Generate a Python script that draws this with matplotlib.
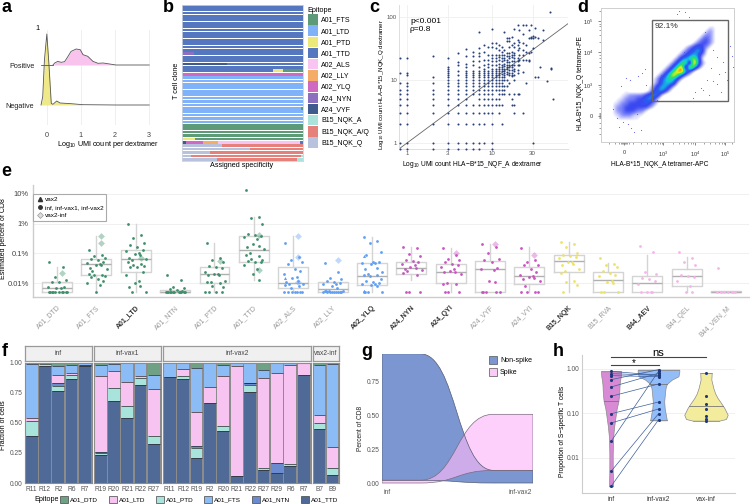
import numpy as np
import matplotlib
matplotlib.use('Agg')
import matplotlib.pyplot as plt
from matplotlib.patches import Patch, Rectangle, PathPatch
from matplotlib.path import Path
from matplotlib.lines import Line2D
from matplotlib.colors import LinearSegmentedColormap

plt.rcParams['font.family'] = ['Liberation Sans', 'DejaVu Sans']
plt.rcParams['mathtext.default'] = 'regular'

W, H = 750, 504
GREY = '#555555'

# ---- panel a
pos_x = [0.18, 0.23, 0.32, 0.42, 0.52, 0.61, 0.71, 0.86, 0.98, 1.06, 1.2, 1.35, 1.5, 1.65, 1.84, 2.03, 3.0]
pos_h = [0, 0.05, 0.09, 0.067, 0.083, 0.2, 0.34, 0.4, 0.383, 0.258, 0.217, 0.092, 0.042, 0.05, 0.025, 0, 0]
neg_x = [-0.17, -0.12, -0.07, 0, 0.06, 0.13, 0.18, 0.29, 0.39, 0.71, 1.05, 2.03, 3.0]
neg_h = [0, 0.21, 1.125, 1.775, 1.04, 0.04, 0.017, 0.1, 0.05, 0.033, 0.008, 0, 0]

# ---- panel b
epitopes = ['A01_FTS', 'A01_LTD', 'A01_PTD', 'A01_TTD', 'A02_ALS', 'A02_LLY', 'A02_YLQ', 'A24_NYN',
            'A24_VYF', 'B15_NQK_A', 'B15_NQK_A/Q', 'B15_NQK_Q']
epitope_colors = ['#5d9a78', '#7fb2f8', '#ece87a', '#5577c0', '#f8c4f2', '#f4ac66', '#cf69c2', '#8d6fc0',
                  '#3f5a8c', '#a9e3db', '#e5807a', '#b8c2dc']
clone_rows = ([[('A01_TTD', 1)]] * 14 + [[('A24_NYN', 0.1), ('A01_TTD', 0.9)]] + [[('A01_TTD', 1)]] * 2
              + [[('A24_VYF', 0.37), ('A01_TTD', 0.63)]] + [[('A01_TTD', 1)]]
              + [[('A01_TTD', 0.75), ('A01_PTD', 0.08), ('A01_FTS', 0.17)]]
              + [[('A02_YLQ', 1)]] + [[('A01_LTD', 1)]] * 9 + [[('A01_LTD', 0.98), ('A01_FTS', 0.02)]]
              + [[('A01_LTD', 1)]] * 4 + [[('A01_FTS', 1)]] * 4
              + [[('A01_PTD', 0.11), ('A01_FTS', 0.89)]]
              + [[('A24_VYF', 0.035), ('A02_YLQ', 0.145), ('A02_LLY', 0.12), ('A02_ALS', 0.67), ('A01_TTD', 0.03)]]
              + [[('B15_NQK_Q', 0.33), ('B15_NQK_A/Q', 0.67)]]
              + [[('B15_NQK_Q', 0.56), ('B15_NQK_A/Q', 0.44)]]
              + [[('B15_NQK_Q', 0.23), ('B15_NQK_A/Q', 0.77)]]
              + [[('B15_NQK_Q', 0.08), ('B15_NQK_A/Q', 0.9), ('B15_NQK_A', 0.02)]]
              + [[('B15_NQK_Q', 0.29), ('B15_NQK_A/Q', 0.66), ('B15_NQK_A', 0.05)]])

# ---- panel c, UMI counts by x value
umi_left = [22, 13, 9, 7, 6, 5, 4, 3, 2, 1]
umi = {
    0.83: umi_left + [0.8],
    1: [22, 13, 12, 9, 8, 7, 6, 5, 4, 3, 2, 1, 0.8],
    2: [24, 11, 9, 7, 6, 5, 4, 3, 2, 1, 0.8],
    3: [22, 16, 15, 14, 13, 12, 11, 10, 9, 8, 7, 6, 5, 4, 3, 2, 1, 0.8],
    4: [27, 19, 17, 14, 12, 10, 9, 8, 7, 6, 5, 4, 3, 2, 1, 0.8],
    5: [31, 24, 18, 16, 14, 13, 12, 11, 10, 9, 8, 7, 6, 5, 4, 3, 2, 1, 0.8],
    6: [28, 24, 20, 17, 14, 13, 12, 11, 10, 9, 8, 7, 6, 4, 3, 2, 1, 0.8],
    7: [58, 32, 27, 24, 20, 16, 14, 13, 12, 11, 10, 9, 8, 7, 6, 5, 4, 3, 2, 1, 0.8],
    8: [36, 28, 21, 17, 15, 14, 13, 12, 11, 10, 9, 8, 7, 6, 5, 4, 3, 2, 1],
    9: [34, 25, 21, 18, 16, 14, 13, 12, 11, 10, 9, 8, 7, 6, 5, 4, 3],
    10: [65, 38, 34, 25, 22, 20, 17, 15, 14, 13, 12, 11, 10, 9, 8, 7, 6, 5, 4, 3, 2, 1, 0.8],
    11: [38, 32, 25, 22, 20, 17, 15, 14, 13, 12, 11, 10, 9, 8, 7, 5, 4],
    12: [36, 30, 25, 23, 21, 18, 16, 15, 14, 13, 12, 11, 10, 9, 8, 7, 6, 5, 4, 3],
    13: [34, 28, 25, 22, 20, 17, 16, 15, 14, 12.5, 11, 10, 9, 8, 7, 6, 4, 2],
    14: [58, 30, 25, 22, 20.5, 18, 16.5, 15, 14, 13, 12, 11, 10, 8, 7, 6],
    15: [46, 41, 27, 24, 21, 19, 17, 16, 15, 13.5, 12.5, 10, 8],
    16: [47, 42, 34, 27, 24, 22, 19, 17, 16, 14.5, 13, 12, 9, 6],
    17: [49, 36, 28, 25, 23, 20, 17, 16, 14.5, 13, 12, 11.5, 5, 4],
    18: [65, 38, 34, 27, 25, 22, 20, 17, 15, 14, 12, 10, 6, 4, 3],
    20: [75, 43, 36, 30, 22, 20, 17, 14.5, 13, 6],
    21: [62, 40, 32, 25, 21, 17, 6],
    23: [75, 53, 38, 30, 25, 21, 13.5, 3],
    25: [75, 36, 28, 21, 9],
    27: [62, 46, 27, 21, 20],
    29: [76, 49, 47, 28],
    30: [50, 46, 32, 1],
    32: [66, 49, 11],
    35: [46, 11],
    37: [16],
    40: [62, 43],
    44: [9.5],
    48: [121],
    50: [15.5, 15],
    52: [5],
}

# ---- panel d, density read on a 4 px grid, digit = density level
flow_rows = [
    '',
    '',
    '',
    '',
    '',
    '...........................11',
    '..........................121',
    '.........................1221',
    '........................12321',
    '.......................123321',
    '.....................1234321',
    '....................1234541',
    '...................12345421',
    '..................12456751',
    '.................12467 9521',
    '................12468 9631',
    '...............124689531',
    '..............124686421',
    '.............12456531',
    '.............1245541',
    '............1245531',
    '......1.....134531',
    '.....11222234541',
    '....11222334531',
    '...112233334321',
    '...12233333321',
    '...122333221',
    '...11222111',
    '....111111',
]
speck_x = [20, 29, 37, 44, 70, 83, 96, 112, 118, 122, 129, 131, 102, 108, 116, 124, 92, 60, 40, 48, 126, 112, 104, 56, 18, 12, 27, 33, 120, 132, 78, 80, 76, 84, 73, 88, 116, 110, 106, 100, 94, 16, 22, 30, 36, 45, 25, 41]
speck_y = [56, 62, 66, 73, 76, 90, 122, 61, 68, 80, 96, 86, 52, 47, 58, 70, 44, 67, 12, 49, 62, 92, 110, 42, 15, 33, 18, 10, 50, 75, 131, 134, 128, 130, 122, 125, 85, 74, 62, 54, 50, 24, 20, 14, 28, 57, 64, 69]
flow_xticks = [23, 62, 94, 124]
flow_yticks = [26, 57, 90, 121]

# ---- panel e
e_labels = ['A01_DTD', 'A01_FTS', 'A01_LTD', 'A01_NTN', 'A01_PTD', 'A01_TTD', 'A02_ALS', 'A02_LLY', 'A02_YLQ',
            'A24_NYN', 'A24_QYI', 'A24_VYF', 'A24_VYI', 'B15_NQK', 'B15_RVA', 'B44_AEV', 'B44_QEL', 'B44_VEN_M']
e_bold = ['A01_LTD', 'A02_YLQ', 'A24_NYN', 'A24_QYI', 'B15_NQK', 'B44_AEV']
green, blue, magenta, yellow, pink = '#3f8f6b', '#5f9ff5', '#c855c0', '#ece46a', '#f6b4ec'
e_colors = [green] * 6 + [blue] * 3 + [magenta] * 4 + [yellow] * 2 + [pink] * 3
q1 = [0.005, 0.018, 0.023, 0.005, 0.01, 0.051, 0.0066, 0.005, 0.0089, 0.02, 0.01, 0.005, 0.009, 0.023, 0.005, 0.005, 0.0079, 0.005]
med = [0.0069, 0.043, 0.063, 0.0052, 0.0195, 0.13, 0.01, 0.0063, 0.017, 0.032, 0.024, 0.029, 0.017, 0.054, 0.0123, 0.01, 0.017, 0.005]
q3 = [0.011, 0.066, 0.126, 0.0058, 0.036, 0.39, 0.034, 0.0105, 0.048, 0.052, 0.044, 0.054, 0.034, 0.085, 0.023, 0.0168, 0.029, 0.0053]
wlo = [0.005, 0.0051, 0.005, 0.005, 0.005, 0.0126, 0.005, 0.005, 0.005, 0.013, 0.005, 0.005, 0.005, 0.005, 0.005, 0.005, 0.005, 0.005]
whi = [0.035, 0.39, 1.0, 0.006, 0.23, 1.7, 0.39, 0.0105, 0.36, 0.166, 0.155, 0.2, 0.166, 0.245, 0.046, 0.087, 0.077, 0.0053]
e_points = [
    [0.052, 0.036, 0.016, 0.013, 0.011, 0.0105, 0.0072, 0.0072, 0.0068, 0.0068] + [0.0051] * 10,
    [0.13, 0.085, 0.08, 0.072, 0.065, 0.058, 0.05, 0.047, 0.045, 0.042, 0.04, 0.033, 0.03, 0.026, 0.02, 0.019, 0.018, 0.017, 0.016, 0.014, 0.012, 0.01, 0.0086, 0.0051],
    [1.0, 0.4, 0.33, 0.22, 0.19, 0.16, 0.13, 0.12, 0.1, 0.095, 0.085, 0.07, 0.065, 0.06, 0.052, 0.043, 0.04, 0.037, 0.036, 0.034, 0.024, 0.018, 0.012, 0.01, 0.008, 0.0075, 0.0051, 0.0051],
    [0.018, 0.013, 0.0072, 0.0066, 0.0062, 0.0058, 0.0056] + [0.0051] * 12,
    [0.23, 0.068, 0.058, 0.05, 0.037, 0.036, 0.033, 0.023, 0.021, 0.02, 0.019, 0.018, 0.012, 0.011, 0.011, 0.01, 0.0078, 0.0075, 0.0051, 0.0051, 0.0051, 0.0051],
    [13.5, 1.7, 1.6, 0.95, 0.45, 0.4, 0.38, 0.36, 0.3, 0.2, 0.18, 0.16, 0.14, 0.1, 0.09, 0.08, 0.065, 0.06, 0.055, 0.052, 0.05, 0.042, 0.03, 0.02, 0.0126],
    [0.23, 0.075, 0.06, 0.05, 0.045, 0.03, 0.025, 0.02, 0.016, 0.015, 0.012, 0.0105, 0.0095, 0.009, 0.0085, 0.008, 0.0066] + [0.0051] * 7,
    [0.048, 0.024, 0.015, 0.014, 0.012, 0.011, 0.01, 0.0095, 0.009, 0.008, 0.007] + [0.0056] * 4 + [0.0051] * 9,
    [0.36, 0.27, 0.22, 0.11, 0.09, 0.052, 0.05, 0.048, 0.046, 0.045, 0.032, 0.03, 0.024, 0.02, 0.019, 0.018, 0.017, 0.014, 0.012, 0.011, 0.01, 0.0095, 0.009, 0.0085, 0.008] + [0.0051] * 4,
    [0.166, 0.15, 0.098, 0.08, 0.062, 0.056, 0.05, 0.045, 0.04, 0.036, 0.032, 0.03, 0.028, 0.025, 0.022, 0.018, 0.0051, 0.0051, 0.0051],
    [0.155, 0.085, 0.065, 0.06, 0.05, 0.045, 0.04, 0.035, 0.03, 0.026, 0.024, 0.023, 0.02, 0.01, 0.009, 0.0095, 0.0051, 0.0051, 0.0051],
    [0.2, 0.17, 0.1, 0.065, 0.06, 0.05, 0.032, 0.03, 0.028, 0.012, 0.0105, 0.0051, 0.0051, 0.0051, 0.0051, 0.0051],
    [0.15, 0.062, 0.05, 0.042, 0.04, 0.03, 0.024, 0.018, 0.017, 0.016, 0.015, 0.014, 0.012, 0.008, 0.0051, 0.0051, 0.0051, 0.0051],
    [0.245, 0.2, 0.16, 0.1, 0.085, 0.08, 0.075, 0.07, 0.052, 0.05, 0.045, 0.04, 0.03, 0.025, 0.022, 0.012, 0.011, 0.0085, 0.0051],
    [0.07, 0.045, 0.04, 0.035, 0.025, 0.022, 0.019, 0.017, 0.012, 0.011, 0.01, 0.0051, 0.0051, 0.0051],
    [0.18, 0.11, 0.024, 0.02, 0.015, 0.014, 0.012, 0.0095, 0.0051, 0.0051, 0.0051, 0.0051],
    [0.11, 0.07, 0.05, 0.04, 0.018, 0.017, 0.016, 0.012, 0.0078, 0.0051, 0.0051],
    [0.031] + [0.0051] * 7,
]
diamond_cat = [0, 1, 1, 2, 4, 5, 5, 6, 6, 7, 10, 11, 12, 6]
diamond_val = [0.022, 0.39, 0.23, 0.07, 0.055, 0.4, 0.028, 0.39, 0.075, 0.06, 0.1, 0.2, 0.09, 0.0105]
triangle_cat = [6, 8, 8, 8]
triangle_val = [0.015, 0.08, 0.0055, 0.0055]

# ---- panel f, fractions stacked from bottom: TTD, PTD, NTN, LTD, FTS, DTD
stack_names = ['A01_TTD', 'A01_PTD', 'A01_NTN', 'A01_LTD', 'A01_FTS', 'A01_DTD']
stack_colors = ['#4f6a96', '#a8e4dc', '#6a8bcf', '#f7c3f0', '#8cbcf5', '#6fa285']
inf_ids = ['R11', 'R12', 'R2', 'R6', 'R7']
inf_frac = [[.388, .975, .766, .86, .967], [.13, .01, .038, .038, 0], [0, 0, .03, 0, .016],
            [.019, 0, .06, .014, 0], [.453, .015, .08, .068, .012], [.01, 0, .026, .02, .005]]
vax1_ids = ['R19', 'R20', 'R21', 'R22', 'R27']
vax1_frac = [[.234, .678, .537, .815, .325], [.019, .107, .099, .053, .061], [.005, 0, 0, 0, 0],
             [.626, .141, .199, .016, .391], [.099, .063, .16, .111, .123], [.017, .011, .005, .005, .1]]
vax2_ids = ['R11', 'R12', 'R19', 'R2', 'R20', 'R21', 'R22', 'R27', 'R29', 'R6', 'R7']
vax2_frac = [[.876, .86, .207, .664, .43, .055, .752, .11, .083, .14, .898],
             [0, .03, .08, 0, .047, 0, .061, .014, 0, .02, 0],
             [0, 0, .019, 0, 0, 0, .019, 0, .082, 0, 0],
             [0, .06, .281, .132, .413, .917, .002, .744, .752, .818, .097],
             [.116, .045, .369, .201, .093, .028, .163, .069, .077, .017, .005],
             [.008, .005, .044, .003, .017, 0, .003, .063, .006, .005, 0]]
vi_ids = ['B7', 'B9']
vi_frac = [[.446, .069], [.05, .055], [0, 0], [.069, .171], [.413, .694], [.022, .011]]

# ---- panel g
stages = [1, 2]
nonspike_low, nonspike_high = [0.02, 0.0], [0.95, 0.093]
spike_low, spike_high = [0.0, 0.093], [0.02, 0.505]

# ---- panel h
h_labels = ['inf', 'inf-vax2', 'vax-inf']
inf_vals = [.886, .785, .708, .575, .393, .243, .0985, .061, .0235, .005, .0023]
infvax_vals = [.72, .72, .67, .966, .80, .46, .181, .126, .886, .0985, .072]
vaxinf_vals = [.81, .25, .166, .126, .086, .077, .069]
h_medians = [.19, .46, .145]
viol_y = [[.886, .8, .684, .55, .44, .33, .264, .187, .13, .093, .05, .028, .0119, .005, .0023],
          [.966, .88, .684, .575, .46, .38, .314, .187, .13, .093, .07],
          [.81, .7, .575, .374, .28, .222, .165, .133, .093, .075, .069]]
viol_w = [[.21, .21, .205, .19, .18, .175, .17, .155, .12, .1, .065, .042, .035, .036, .042],
          [.437, .44, .42, .28, .176, .15, .14, .12, .13, .155, .176],
          [.12, .118, .113, .155, .195, .246, .33, .387, .458, .42, .28]]
viol_colors = ['#d88ad4', '#93bdf8', '#f4ec9d']

fig = plt.figure(figsize=(W / 100, H / 100), dpi=100)


def px_axes(x0, y0, x1, y1):
    return fig.add_axes([x0 / W, 1 - y1 / H, (x1 - x0) / W, (y1 - y0) / H])


def px_text(x, y, s, **kw):
    kw.setdefault('ha', 'center')
    kw.setdefault('va', 'center')
    kw.setdefault('fontsize', 5.5)
    return fig.text(x / W, 1 - y / H, s, **kw)


for letter, lx, ly in [('a', 1, 8), ('b', 163, 8), ('c', 369, 8), ('d', 577, 8), ('e', 1, 172), ('f', 2, 351), ('g', 361, 351), ('h', 553, 351)]:
    px_text(lx, ly, letter, ha='left', fontsize=13, fontweight='bold')

# a: ridgeline
ax = px_axes(40, 30, 155, 125)
ax.set_xlim(-0.2, 3.17)
ax.set_ylim(-0.5, 1.875)
for s in ax.spines.values():
    s.set_visible(False)
ax.grid(axis='x', color='#ececec', lw=0.6)
ax.set_axisbelow(True)
ax.set_xticks([0, 1, 2, 3])
ax.set_yticks([0, 1], ['Negative', 'Positive'])
ax.tick_params(length=0, labelsize=5.2, labelcolor='#222222', pad=4)
ax.tick_params(axis='x', pad=5, labelcolor='#444444')
pos_x, pos_h, neg_x, neg_h = map(np.array, (pos_x, pos_h, neg_x, neg_h))
ax.plot([-0.17, 0.18], [1, 1], color='#555555', lw=0.6)
ax.fill_between(pos_x, 1, 1 + pos_h, color='#f8c4ee', lw=0)
ax.plot(pos_x, 1 + pos_h, color='#555555', lw=0.6)
yellow_part = neg_x <= 1.05
ax.fill_between(neg_x[yellow_part], 0, neg_h[yellow_part], color='#efe98a', lw=0, clip_on=False)
ax.plot(neg_x, neg_h, color='#555555', lw=0.6)
px_text(37, 28, '1', fontsize=5.2)
px_text(108, 144, 'Log$_{10}$ UMI count per dextramer', fontsize=5.2)

# b: stacked rows
ax = px_axes(181.5, 4.5, 303.5, 161)
ax.set_xlim(0, 1)
ax.set_ylim(len(clone_rows) - 0.5, -0.5)
ax.set_xticks([])
ax.set_yticks([])
for s in ax.spines.values():
    s.set_edgecolor('#ccd3df')
    s.set_linewidth(0.6)
for r, row in enumerate(clone_rows):
    left = 0
    for name, frac in row:
        ax.barh(r, frac, left=left, height=0.8, color=epitope_colors[epitopes.index(name)], lw=0)
        left += frac
px_text(242, 166, 'Assigned specificity', fontsize=5.2)
px_text(176, 81, 'T cell clone', rotation=90, fontsize=5.2)
handles = [Patch(facecolor=c, edgecolor='none', label=n) for c, n in zip(epitope_colors, epitopes)]
fig.legend(handles=handles, title='Epitope', loc='upper left', bbox_to_anchor=(307.5 / W, 1 - 6.5 / H), frameon=False,
           fontsize=5, title_fontsize=5.2, alignment='left', handlelength=1.5, handleheight=1.95,
           labelspacing=0.1, handletextpad=0.5, borderpad=0, borderaxespad=0)

# c: scatter
ax = px_axes(399, 5, 568, 149)
ax.set_xscale('log')
ax.set_yscale('log')
ax.set_xlim(0.805, 78.4)
ax.set_ylim(0.803, 155)
for x_val, ys in umi.items():
    ax.scatter([x_val] * len(ys), ys, s=2.2, color='#27407a', lw=0, clip_on=False, zorder=3)
ax.plot([0.8, 80], [0.8, 80], color='#666666', lw=0.6, zorder=2)
ax.set_xticks([1, 3, 10, 30], ['1', '3', '10', '30'])
ax.set_yticks([1, 10, 100], ['1', '10', '100'])
ax.minorticks_off()
ax.tick_params(length=0, labelsize=4.4, labelcolor=GREY, pad=1.5)
ax.grid(color='#efefef', lw=0.6)
ax.set_axisbelow(True)
for k, s in ax.spines.items():
    s.set_visible(k in ('left', 'bottom'))
    s.set_edgecolor('#dddddd')
    s.set_linewidth(0.7)
ax.text(0.065, 0.86, 'p<0.001\n\u03c1=0.8', transform=ax.transAxes, fontsize=6, va='center', linespacing=1.15)
px_text(472, 165, 'Log$_{10}$ UMI count HLA\u2212B*15_NQF_A dextramer', fontsize=4.8)
px_text(382, 84, 'Log$_{10}$ UMI count HLA\u2212B*15_NQK_Q dextramer', fontsize=4.4, rotation=90)

# d: flow density
ax = px_axes(601, 8, 734, 142)
flow = np.zeros((35, 35))
for r, row in enumerate(flow_rows):
    for c, ch in enumerate(row):
        if ch.isdigit():
            flow[r, c] = int(ch)
flow_cmap = LinearSegmentedColormap.from_list('flow', [
    (0, '#ffffff'), (0.06, '#ffffff'), (0.11, '#e0e0ff'), (0.22, '#8088f8'), (0.33, '#3a48f0'), (0.44, '#2a5cf0'),
    (0.56, '#10c8e0'), (0.67, '#30e060'), (0.78, '#e0f020'), (0.89, '#ff8a00'), (1, '#f02010')])
ax.imshow(flow, extent=(-1, 139, -3, 137), origin='upper', cmap=flow_cmap, vmin=0, vmax=9, interpolation='bicubic', aspect='auto')
ax.set_xlim(0, 133)
ax.set_ylim(0, 134)
ax.scatter(speck_x, speck_y, s=0.6, color='#5a5af0', lw=0)
ax.add_patch(Rectangle((51, 41), 76, 81, fill=False, edgecolor='#666666', lw=1))
ax.text(54, 116, '92.1%', fontsize=6, va='center', color='#333333')
tick_labs = ['0', '10$^3$', '10$^4$', '10$^5$']
ax.set_xticks(flow_xticks, tick_labs)
ax.set_yticks(flow_yticks, tick_labs)
ax.set_xticks([8, 14, 18, 20, 21, 22, 24, 25, 26, 28, 32, 40, 46, 50, 54, 57, 59, 61, 72, 78, 83, 87, 90, 92, 103, 109, 114, 118, 121, 123, 131], minor=True)
ax.set_yticks([8, 14, 19, 24, 25, 26, 27, 28, 29, 34, 41, 46, 50, 53, 55, 68, 75, 80, 84, 87, 100, 107, 112, 116, 118, 131], minor=True)
ax.tick_params(which='major', length=2.5, width=0.5, labelsize=4, labelcolor='#333333', pad=3, color='#555555')
ax.tick_params(which='minor', length=1.5, width=0.4, color='#555555')
for s in ax.spines.values():
    s.set_edgecolor('#cfcfcf')
    s.set_linewidth(0.7)
px_text(660, 165, 'HLA-B*15_NQK_A tetramer-APC', fontsize=4.8)
px_text(581, 83, 'HLA-B*15_NQK_Q tetramer-PE', fontsize=4.8, rotation=90)

# e: box and points
ax = px_axes(33, 185, 749, 297)
ax.set_yscale('log')
ax.set_xlim(0.39, 18.58)
ax.set_ylim(0.0034, 20)
stats = [dict(med=m, q1=a, q3=b, whislo=lo, whishi=hi, fliers=[]) for m, a, b, lo, hi in zip(med, q1, q3, wlo, whi)]
cat_pos = np.arange(1, len(e_labels) + 1)
edge = dict(color='#d4d4d4', lw=1)
ax.bxp(stats, positions=cat_pos, widths=0.76, showfliers=False, showcaps=False, boxprops=edge, whiskerprops=edge,
       medianprops=dict(color='#b0b0b0', lw=1), manage_ticks=False)
jitter = [-.2, .14, -.06, .22, -.14, .04, .18, -.24, .09, -.02, .12, -.17, .26, -.1]
for i, vals in enumerate(e_points):
    xs = [cat_pos[i] + jitter[j % len(jitter)] for j in range(len(vals))]
    ax.scatter(xs, vals, s=4, color=e_colors[i], lw=0, zorder=3)
for c, v in zip(diamond_cat, diamond_val):
    ax.scatter(cat_pos[c] + 0.13, v, s=12, marker='D', color=e_colors[c], alpha=0.4, lw=0, zorder=3)
for c, v in zip(triangle_cat, triangle_val):
    ax.scatter(cat_pos[c] - 0.2, v, s=5, marker='^', color=e_colors[c], lw=0, zorder=3)
ax.set_yticks([0.01, 0.1, 1, 10], ['0.01%', '0.1%', '1%', '10%'])
ax.minorticks_off()
ax.grid(axis='y', color='#f0f0f0', lw=0.7)
ax.set_axisbelow(True)
ax.set_xticks(cat_pos, e_labels, rotation=45, ha='right', rotation_mode='anchor')
ax.tick_params(length=0, labelsize=5.5, labelcolor='#444444', pad=3)
ax.tick_params(axis='x', labelsize=5, pad=5)
for lab in ax.get_xticklabels():
    if lab.get_text() in e_bold:
        lab.set_fontweight('bold')
        lab.set_color('#333333')
    else:
        lab.set_color('#999999')
for k, s in ax.spines.items():
    s.set_visible(k in ('left', 'bottom'))
    s.set_edgecolor('#cccccc')
    s.set_linewidth(1)
leg_handles = [Line2D([], [], ls='', marker='^', color='#333333', ms=3, label='vax2'),
               Line2D([], [], ls='', marker='o', color='#333333', ms=2.5, label='inf, inf-vax1, inf-vax2'),
               Line2D([], [], ls='', marker='D', color='#999999', mfc='#dddddd', ms=3, mew=0.5, label='vax2-inf')]
leg = ax.legend(handles=leg_handles, loc='upper left', bbox_to_anchor=(0, (297 - 194) / 112), fontsize=4.6, frameon=True,
                fancybox=False, edgecolor='#aaaaaa', framealpha=1, borderaxespad=0, borderpad=0.45, labelspacing=0.4,
                handletextpad=0, handlelength=1.4)
leg.get_frame().set_linewidth(0.8)
px_text(4, 239, 'Estimated percent of CD8', rotation=90, fontsize=5)

# f: facets
facets = [('inf', inf_ids, inf_frac, 25, 91.5), ('inf-vax1', vax1_ids, vax1_frac, 94, 160.5),
          ('inf-vax2', vax2_ids, vax2_frac, 163, 310.5), ('vax2-inf', vi_ids, vi_frac, 313, 338.5)]
for i, (title, ids, frac, x0, x1) in enumerate(facets):
    strip = px_axes(x0, 346, x1, 361)
    strip.set_xticks([])
    strip.set_yticks([])
    strip.set_facecolor('#f0f0f0')
    for s in strip.spines.values():
        s.set_edgecolor('#999999')
        s.set_linewidth(0.9)
    strip.text(0.5, 0.5, title, transform=strip.transAxes, ha='center', va='center', fontsize=4.8, color='#444444')
    ax = px_axes(x0, 362.5, x1, 483)
    ax.set_facecolor('#8c8c8c')
    pos = np.arange(1, len(ids) + 1)
    bottom = np.zeros(len(ids))
    for vals, col in zip(frac, stack_colors):
        vals = np.array(vals, dtype=float)
        ax.bar(pos, vals, bottom=bottom, width=0.88, color=col, lw=0)
        bottom = bottom + vals
        tops = vals > 0
        ax.hlines(bottom[tops], pos[tops] - 0.44, pos[tops] + 0.44, color='#2a2a2a', lw=0.5)
    ax.set_xlim(0.5, len(ids) + 0.5)
    ax.set_ylim(0, 1)
    ax.set_xticks(pos, ids)
    ax.tick_params(length=0, labelsize=4.8, labelcolor=GREY, pad=2)
    if i == 0:
        ax.set_yticks([0, 0.25, 0.5, 0.75, 1], ['0.00', '0.25', '0.50', '0.75', '1.00'])
    else:
        ax.set_yticks([])
    for s in ax.spines.values():
        s.set_edgecolor('#8c8c8c')
        s.set_linewidth(0.8)
px_text(4, 425, 'Fraction of cells', rotation=90, fontsize=5)
px_text(34, 499.5, 'Epitope', ha='left', fontsize=5.2)
order = ['A01_DTD', 'A01_LTD', 'A01_PTD', 'A01_FTS', 'A01_NTN', 'A01_TTD']
f_handles = [Patch(facecolor=stack_colors[stack_names.index(n)], edgecolor='#444444', lw=0.5, label=n) for n in order]
fig.legend(handles=f_handles, loc='center left', bbox_to_anchor=(60 / W, 1 - 499.5 / H), ncol=6, frameon=False,
           fontsize=4.6, handlelength=1.25, handleheight=1.5, handletextpad=0.3, columnspacing=1.7, borderpad=0,
           borderaxespad=0)

# g: alluvial
ax = px_axes(382, 354, 533, 486)
x_left, x_right = 1 - 5 / 133, 2 + 13 / 133
ax.set_xlim(x_left, x_right)
ax.set_ylim(-3 / 136, 129 / 136)


def flow_patch(low, high, **kw):
    a, b, mid = 1.25, 1.8, 1.525
    verts = [(x_left, low[0]), (a, low[0]), (mid, low[0]), (mid, low[1]), (b, low[1]), (x_right, low[1]),
             (x_right, high[1]), (b, high[1]), (mid, high[1]), (mid, high[0]), (a, high[0]), (x_left, high[0]), (x_left, low[0])]
    codes = [Path.MOVETO, Path.LINETO, Path.CURVE4, Path.CURVE4, Path.CURVE4, Path.LINETO,
             Path.LINETO, Path.LINETO, Path.CURVE4, Path.CURVE4, Path.CURVE4, Path.LINETO, Path.CLOSEPOLY]
    return PathPatch(Path(verts, codes), **kw)


ax.add_patch(flow_patch(nonspike_low, nonspike_high, facecolor='#7b96d0', edgecolor='none'))
ax.add_patch(flow_patch(spike_low, spike_high, facecolor='#fbb8f8', alpha=0.65, edgecolor='none'))
ax.add_patch(flow_patch(nonspike_low, nonspike_high, fill=False, edgecolor='#555a70', lw=0.5))
ax.add_patch(flow_patch(spike_low, spike_high, fill=False, edgecolor='#7a6a80', lw=0.5))
ax.set_yticks([0, 0.25, 0.5, 0.75], ['0.00', '0.25', '0.50', '0.75'])
ax.set_xticks(stages, ['inf', 'inf-vax2'])
ax.tick_params(length=0, labelsize=4.8, labelcolor=GREY, pad=2)
for s in ax.spines.values():
    s.set_visible(False)
ax.legend(handles=[Patch(facecolor='#7b96d0', edgecolor='#555555', lw=0.5, label='Non-spike'),
                   Patch(facecolor='#f8ccf6', edgecolor='#555555', lw=0.5, label='Spike')],
          loc='upper left', bbox_to_anchor=((489 - 382) / 151, 1 - 2 / 132), frameon=False, fontsize=5, handlelength=1.2,
          handleheight=1.4, handletextpad=0.4, labelspacing=0.55, borderpad=0, borderaxespad=0)
px_text(360, 428, 'Percent of CD8', rotation=90, fontsize=4.8, color='#222222')

# h: violins
ax = px_axes(582, 355, 735, 493)
ax.set_yscale('log')
ax.set_xlim(1 - 29 / 47.4, 3 + 29 / 47.4)
ax.set_ylim(0.00163, 2.06)
for i in range(3):
    ys, ws = np.array(viol_y[i]), np.array(viol_w[i])
    ax.fill_betweenx(ys, i + 1 - ws, i + 1 + ws, facecolor=viol_colors[i], edgecolor='#8a8a8a', lw=0.5)
    ax.plot([i + 1 - ws[0], i + 1 + ws[0]], [ys[0], ys[0]], color='#8a8a8a', lw=0.5)
    ax.plot([i + 1 - ws[-1], i + 1 + ws[-1]], [ys[-1], ys[-1]], color='#8a8a8a', lw=0.5)
    half = np.interp(np.log(h_medians[i]), np.log(ys[::-1]), ws[::-1])
    ax.plot([i + 1 - half, i + 1 + half], [h_medians[i]] * 2, color='#777777', lw=0.6)
for a, b in zip(inf_vals, infvax_vals):
    ax.plot([1, 2], [a, b], color='#3d5f9c', lw=0.5)
ax.scatter([1] * len(inf_vals), inf_vals, s=5, color='#1f3a7a', lw=0, zorder=3)
ax.scatter([2] * len(infvax_vals), infvax_vals, s=5, color='#1f3a7a', lw=0, zorder=3)
ax.scatter([3] * len(vaxinf_vals), vaxinf_vals, s=5, color='#1f3a7a', lw=0, zorder=3)
ax.set_yticks([0.01, 0.1, 1], ['0.01', '0.10', '1.00'])
ax.minorticks_off()
ax.grid(axis='y', color='#f0f0f0', lw=0.7)
ax.set_axisbelow(True)
ax.set_xticks([1, 2, 3], h_labels)
ax.tick_params(length=0, labelsize=4.8, labelcolor='#333333', pad=2)
ax.tick_params(axis='y', labelcolor=GREY)
for k, s in ax.spines.items():
    s.set_visible(k in ('left', 'bottom'))
    s.set_edgecolor('#cccccc')
    s.set_linewidth(0.8)
px_text(563, 431, 'Proportion of S\u2212specific T cells', rotation=90, fontsize=4.8)
bar_ax = fig.add_axes(ax.get_position(), frameon=False, xlim=ax.get_xlim(), ylim=(493, 355))
bar_ax.set_xticks([])
bar_ax.set_yticks([])
bar_ax.plot([1, 3], [357, 357], color='#444444', lw=0.8, clip_on=False)
bar_ax.plot([1, 2], [365, 365], color='#444444', lw=0.8, clip_on=False)
bar_ax.text(2, 353, 'ns', ha='center', va='center', fontsize=8)
bar_ax.text(1.47, 363, '*', ha='center', va='center', fontsize=7)

fig.savefig('out.png', dpi=100)
